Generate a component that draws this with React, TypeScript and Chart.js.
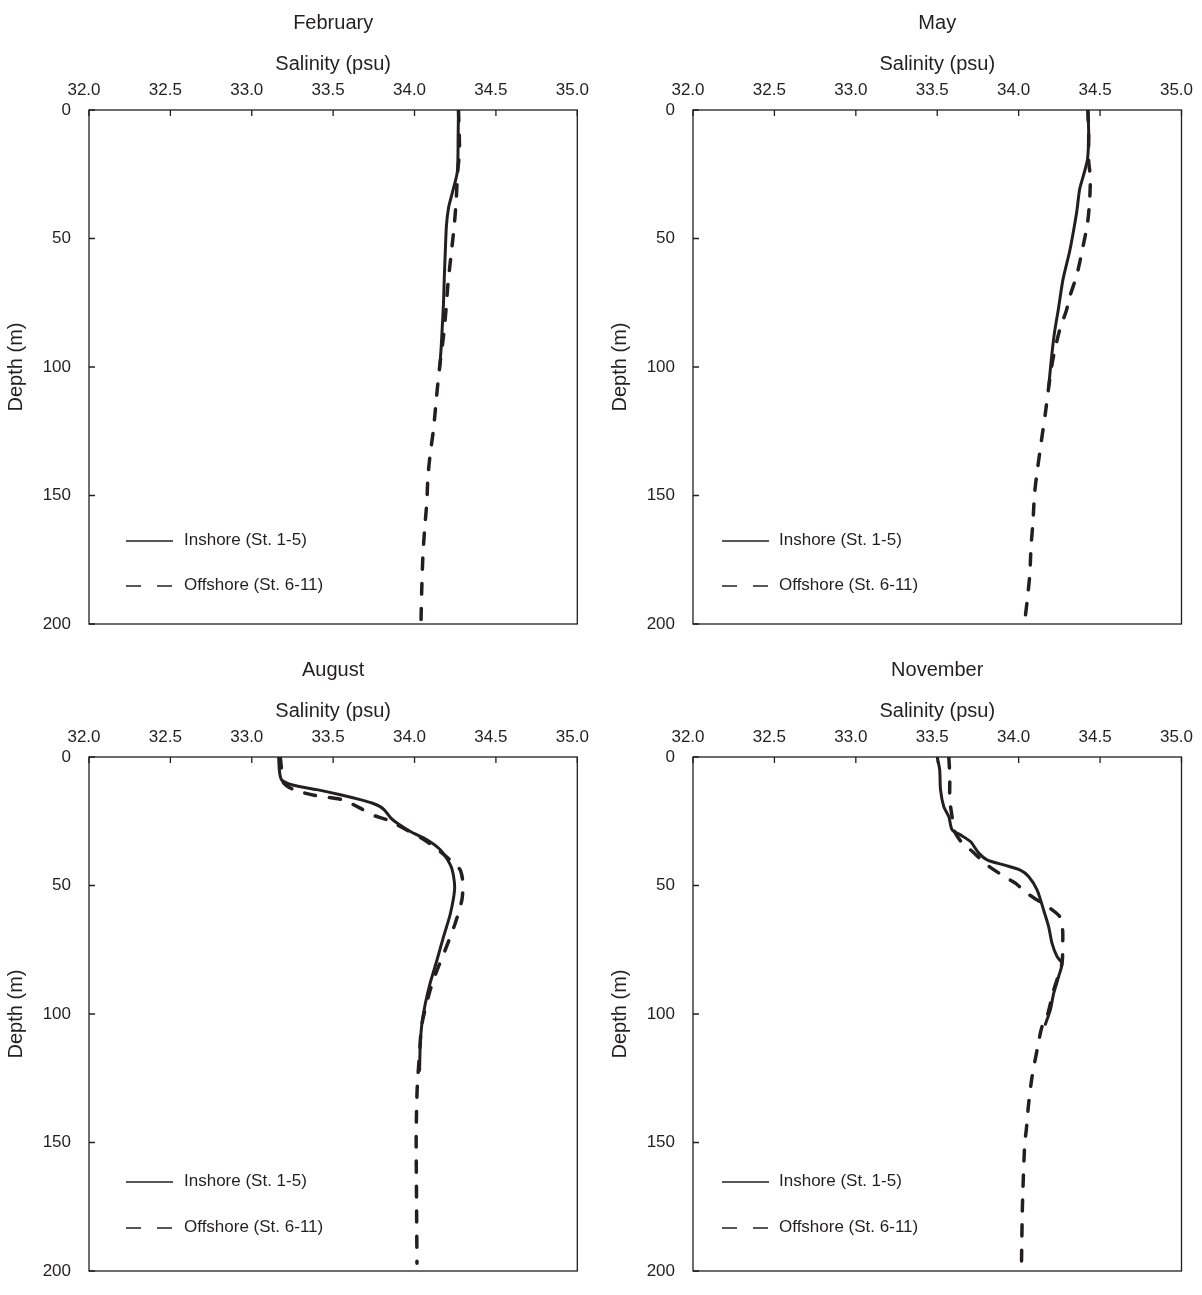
import React, { useEffect, useRef } from 'react';
import { Chart, registerables } from 'chart.js';

Chart.register(...registerables);

const FONT = '"Liberation Sans", Arial, Helvetica, sans-serif';
const INK = '#231f20';

// ---- axis ticks ----
const salinityTicks = [32.0, 32.5, 33.0, 33.5, 34.0, 34.5, 35.0];
const depthTicks = [0, 50, 100, 150, 200];

const seriesLabels = ['Inshore (St. 1-5)', 'Offshore (St. 6-11)'];
const panelTitles = ['February', 'May', 'August', 'November'];

// ---- February ----
const febInshoreDepth = [0, 10, 24, 32, 38, 45, 55, 65, 75, 85, 92, 101];
const febInshoreSal = [34.27, 34.268, 34.263, 34.233, 34.209, 34.196, 34.189, 34.183, 34.178, 34.17, 34.164, 34.154];
const febOffshoreDepth = [0, 8, 16, 25, 35, 45, 56, 68, 78, 88, 100, 113, 124, 134, 143, 152, 164, 174, 185, 195, 199];
const febOffshoreSal = [34.27, 34.274, 34.276, 34.264, 34.256, 34.244, 34.225, 34.205, 34.193, 34.178, 34.154, 34.133, 34.117, 34.096, 34.082, 34.076, 34.061, 34.051, 34.045, 34.041, 34.04];

// ---- May ----
const mayInshoreDepth = [0, 9, 19, 25, 31, 39, 47, 55, 66, 77, 87, 98, 108];
const mayInshoreSal = [34.425, 34.43, 34.423, 34.4, 34.374, 34.358, 34.337, 34.313, 34.272, 34.245, 34.219, 34.199, 34.184];
const mayOffshoreDepth = [0, 9, 20, 26, 35, 44, 55, 64, 72, 78, 86, 97, 108, 118, 129, 139, 149, 160, 170, 181, 191, 197];
const mayOffshoreSal = [34.425, 34.43, 34.43, 34.44, 34.436, 34.423, 34.389, 34.358, 34.317, 34.293, 34.25, 34.21, 34.184, 34.164, 34.139, 34.117, 34.098, 34.088, 34.076, 34.068, 34.052, 34.041];

// ---- August ----
const augInshoreDepth = [0, 6, 9, 11, 12.7, 14.7, 16.6, 17.9, 19.3, 20.6, 21.8, 23.8, 25.7, 29, 32.2, 36.1, 42, 46.5, 51.7, 61, 70, 79, 88, 96, 104, 112, 122];
const augInshoreSal = [33.165, 33.171, 33.185, 33.257, 33.4, 33.544, 33.666, 33.738, 33.789, 33.814, 33.83, 33.855, 33.892, 33.974, 34.076, 34.158, 34.22, 34.24, 34.246, 34.22, 34.178, 34.138, 34.096, 34.066, 34.045, 34.035, 34.031];
const augOffshoreDepth = [0, 6, 10, 12.7, 15, 16.6, 19.9, 22.5, 24.4, 27.7, 31.6, 36.8, 41.3, 44, 49, 55.6, 64.7, 75, 83, 90.7, 104, 116, 128, 139, 149, 170, 197];
const augOffshoreSal = [33.175, 33.185, 33.195, 33.257, 33.39, 33.554, 33.666, 33.738, 33.83, 33.932, 34.045, 34.158, 34.24, 34.281, 34.297, 34.291, 34.25, 34.189, 34.138, 34.096, 34.045, 34.03, 34.017, 34.012, 34.01, 34.012, 34.015];

// ---- November ----
const novInshoreDepth = [0, 5, 12.7, 19.3, 23.2, 28.3, 30.3, 32.9, 37.4, 40, 42, 44, 46.5, 51.7, 59.5, 66, 72.5, 77.7, 80.3, 85.5, 92, 98.5, 104];
const novInshoreSal = [33.5, 33.515, 33.52, 33.54, 33.571, 33.591, 33.642, 33.704, 33.755, 33.806, 33.908, 34.01, 34.061, 34.113, 34.153, 34.184, 34.205, 34.236, 34.266, 34.245, 34.215, 34.194, 34.164];
const novOffshoreDepth = [0, 7.5, 16.6, 23.2, 28.3, 33.5, 36.1, 42, 47.2, 49.1, 53, 55.6, 58.9, 62.1, 67.3, 73.8, 80.3, 90.7, 101, 105, 114, 124.5, 135, 145, 150.5, 175, 199];
const novOffshoreSal = [33.571, 33.577, 33.577, 33.591, 33.601, 33.653, 33.704, 33.806, 33.929, 33.98, 34.051, 34.113, 34.194, 34.252, 34.27, 34.27, 34.266, 34.215, 34.174, 34.143, 34.113, 34.082, 34.061, 34.047, 34.037, 34.023, 34.017];

const zip = (sal: number[], depth: number[]) => sal.map((s, i) => ({ x: s, y: depth[i] }));

const framePlugin = {
  id: 'frame',
  afterDraw(chart: any, _args: any, opts: any) {
    const { ctx, chartArea } = chart;
    const { left, top, right, bottom } = chartArea;
    const xs = chart.scales.x;
    const ys = chart.scales.y;
    ctx.save();
    ctx.strokeStyle = INK;
    ctx.lineWidth = 1.3;
    ctx.setLineDash([]);
    ctx.strokeRect(left, top, right - left, bottom - top);
    ctx.beginPath();
    xs.ticks.forEach((t: any) => {
      const px = xs.getPixelForValue(t.value);
      ctx.moveTo(px, top);
      ctx.lineTo(px, top + 6);
    });
    ys.ticks.forEach((t: any) => {
      const py = ys.getPixelForValue(t.value);
      ctx.moveTo(left, py);
      ctx.lineTo(left + 6, py);
    });
    ctx.stroke();

    // legend
    ctx.font = `17px ${FONT}`;
    ctx.fillStyle = INK;
    ctx.textBaseline = 'middle';
    ctx.textAlign = 'left';
    chart.data.datasets.forEach((d: any, i: number) => {
      const yy = top + (i === 0 ? opts.y1 : opts.y2);
      ctx.lineWidth = 1.3;
      ctx.setLineDash(i === 0 ? [] : [15, 16]);
      ctx.beginPath();
      ctx.moveTo(left + opts.x0, yy + 1);
      ctx.lineTo(left + opts.x0 + 47, yy + 1);
      ctx.stroke();
      ctx.setLineDash([]);
      ctx.fillText(d.label, left + opts.tx, yy);
    });
    ctx.restore();
  },
};

type PanelProps = {
  title: string;
  inshore: { x: number; y: number }[];
  offshore: { x: number; y: number }[];
  left: number;
  top: number;
  width: number;
  height: number;
  padRight: number;
  padBottom: number;
  legend: { x0: number; tx: number; y1: number; y2: number };
};

function Panel(p: PanelProps) {
  const ref = useRef<HTMLCanvasElement>(null);
  useEffect(() => {
    const chart = new Chart(ref.current as HTMLCanvasElement, {
      type: 'scatter',
      data: {
        datasets: [
          {
            label: seriesLabels[0],
            data: p.inshore,
            showLine: true,
            borderColor: INK,
            backgroundColor: INK,
            borderWidth: 3,
            pointRadius: 0,
            tension: 0.25,
            borderCapStyle: 'round',
            borderJoinStyle: 'round',
          },
          {
            label: seriesLabels[1],
            data: p.offshore,
            showLine: true,
            borderColor: INK,
            backgroundColor: INK,
            borderWidth: 3.5,
            pointRadius: 0,
            tension: 0.25,
            borderDash: [11, 14],
            borderCapStyle: 'round',
            borderJoinStyle: 'round',
          },
        ],
      } as any,
      options: {
        animation: false,
        responsive: false,
        layout: { padding: { left: 0, top: 0, right: p.padRight, bottom: p.padBottom } },
        plugins: {
          legend: { display: false },
          tooltip: { enabled: false },
          title: {
            display: true,
            fullSize: false,
            text: p.title,
            color: INK,
            font: { size: 20, family: FONT, weight: 'normal' },
            padding: { top: 11, bottom: 0 },
          },
          frame: p.legend,
        } as any,
        scales: {
          x: {
            type: 'linear',
            position: 'top',
            min: 32,
            max: 35,
            afterBuildTicks: (s: any) => {
              s.ticks = salinityTicks.map((v) => ({ value: v }));
            },
            afterFit: (s: any) => {
              s.height = 75;
            },
            ticks: {
              callback: (v: any) => Number(v).toFixed(1),
              color: INK,
              font: { size: 17, family: FONT },
              padding: 0,
              labelOffset: -5,
              maxRotation: 0,
              autoSkip: false,
            },
            grid: { display: false, drawTicks: true, tickLength: 9 },
            border: { display: false },
            title: {
              display: true,
              text: 'Salinity (psu)',
              color: INK,
              font: { size: 20, family: FONT },
              padding: { top: 17, bottom: 0 },
            },
          },
          y: {
            type: 'linear',
            reverse: true,
            min: 0,
            max: 200,
            afterBuildTicks: (s: any) => {
              s.ticks = depthTicks.map((v) => ({ value: v }));
            },
            afterFit: (s: any) => {
              s.width = 89;
            },
            ticks: {
              color: INK,
              font: { size: 17, family: FONT },
              padding: 0,
              autoSkip: false,
            },
            grid: { display: false, drawTicks: true, tickLength: 18 },
            border: { display: false },
            title: {
              display: true,
              text: 'Depth (m)',
              color: INK,
              font: { size: 20, family: FONT },
              padding: { top: 4, bottom: 0 },
            },
          },
        } as any,
      },
      plugins: [framePlugin],
    });
    return () => chart.destroy();
  }, []);
  return (
    <canvas
      ref={ref}
      width={p.width}
      height={p.height}
      style={{ position: 'absolute', left: p.left, top: p.top, width: p.width, height: p.height }}
    />
  );
}

export default function App() {
  const legendLeft = { x0: 37, tx: 95 };
  const legendRight = { x0: 29, tx: 86 };
  return (
    <div
      style={{
        position: 'absolute',
        left: 0,
        top: 0,
        width: 1202,
        height: 1295,
        overflow: 'hidden',
        background: '#ffffff',
      }}
    >
      <Panel
        title={panelTitles[0]}
        inshore={zip(febInshoreSal, febInshoreDepth)}
        offshore={zip(febOffshoreSal, febOffshoreDepth)}
        left={0}
        top={0}
        width={600}
        height={645}
        padRight={22.7}
        padBottom={21}
        legend={{ ...legendLeft, y1: 430, y2: 475 }}
      />
      <Panel
        title={panelTitles[1]}
        inshore={zip(mayInshoreSal, mayInshoreDepth)}
        offshore={zip(mayOffshoreSal, mayOffshoreDepth)}
        left={604}
        top={0}
        width={598}
        height={645}
        padRight={20.5}
        padBottom={21}
        legend={{ ...legendRight, y1: 430, y2: 475 }}
      />
      <Panel
        title={panelTitles[2]}
        inshore={zip(augInshoreSal, augInshoreDepth)}
        offshore={zip(augOffshoreSal, augOffshoreDepth)}
        left={0}
        top={647}
        width={600}
        height={648}
        padRight={22.7}
        padBottom={24}
        legend={{ ...legendLeft, y1: 424, y2: 470 }}
      />
      <Panel
        title={panelTitles[3]}
        inshore={zip(novInshoreSal, novInshoreDepth)}
        offshore={zip(novOffshoreSal, novOffshoreDepth)}
        left={604}
        top={647}
        width={598}
        height={648}
        padRight={20.5}
        padBottom={24}
        legend={{ ...legendRight, y1: 424, y2: 470 }}
      />
    </div>
  );
}
